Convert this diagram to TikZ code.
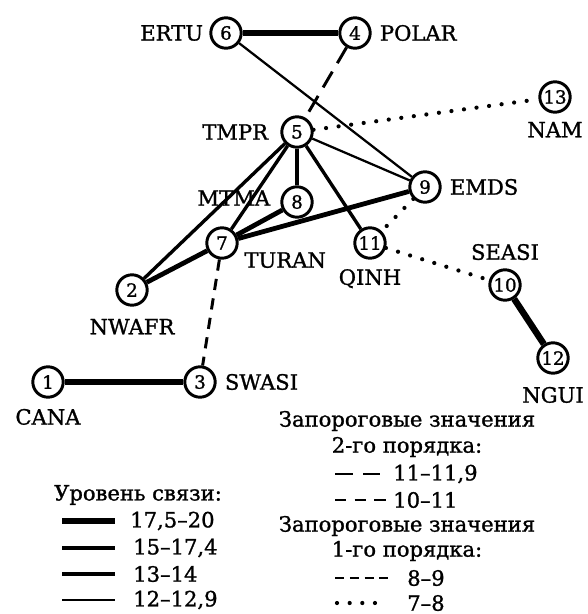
\documentclass[tikz,border=0pt]{standalone}
\usepackage{fontspec}
\setmainfont{DejaVu Serif}
\newfontfamily\semifont{DejaVu Serif}[FakeBold=1.2]
\usetikzlibrary{positioning}

\tikzset{
  reg/.style={circle, draw, fill=white, line width=2.1pt, minimum size=7.6mm, inner sep=0pt, font=\fontsize{13}{13}\semifont},
  lbl/.style={inner sep=0pt, font=\fontsize{15}{16}\semifont},
  lvlA/.style={line width=4.6pt},
  lvlB/.style={line width=3.4pt},
  lvlC/.style={line width=2.4pt},
  lvlD/.style={line width=1.6pt},
  subA/.style={line width=2.1pt, dash pattern=on 13pt off 7pt},
  subB/.style={line width=2.1pt, dash pattern=on 8pt off 6pt},
  subC/.style={line width=2.1pt, dash pattern=on 6.5pt off 4pt},
  subD/.style={line width=3pt, line cap=round, dash pattern=on 0pt off 9pt}
}

\begin{document}
\begin{tikzpicture}[x=0.25mm, y=-0.25mm]

        \useasboundingbox (0,0) rectangle (587,614);

        % regions
        \node[reg] (n6) at (226,33) {6};
        \node[reg] (n4) at (355,33) {4};
        \node[reg] (n5) at (297,132) {5};
        \node[reg] (n13) at (555,97) {13};
        \node[reg] (n8) at (297,202) {8};
        \node[reg] (n9) at (425,187) {9};
        \node[reg] (n7) at (222,243) {7};
        \node[reg] (n11) at (370,243) {11};
        \node[reg] (n2) at (132,290) {2};
        \node[reg] (n10) at (505,285) {10};
        \node[reg] (n12) at (553,358) {12};
        \node[reg] (n1) at (48,382) {1};
        \node[reg] (n3) at (200,382) {3};

        \node[lbl, left=1.5mm of n6] (t6) {ERTU};
        \node[lbl, right=2mm of n4] (t4) {POLAR};
        \node[lbl, left=3mm of n5] (t5) {TMPR};
        \node[lbl, below=2mm of n13] (t13) {NAM};
        \node[lbl, left=2.5mm of n8, yshift=1mm] (t8) {MTMA};
        \node[lbl, right=2mm of n9] (t9) {EMDS};
        \node[lbl, below right=-0.7mm and 2.6mm of n7] (t7) {TURAN};
        \node[lbl, below=2.3mm of n11] (t11) {QINH};
        \node[lbl, below=3mm of n2] (t2) {NWAFR};
        \node[lbl, above=2mm of n10] (t10) {SEASI};
        \node[lbl, below=3mm of n12] (t12) {NGUI};
        \node[lbl, below=2.5mm of n1] (t1) {CANA};
        \node[lbl, right=2mm of n3] (t3) {SWASI};

        % links
        \draw[lvlA] (n6) -- (n4);
        \draw[lvlD] (n6) -- (n9);
        \draw[subA] (n4) -- (n5);
        \draw[subD] (n5) -- (n13);
        \draw[lvlD] (n5) -- (n9);
        \draw[lvlB] (n5) -- (n8);
        \draw[lvlC] (n5) -- (n11);
        \draw[lvlC] (n5) -- (n7);
        \draw[lvlC] (n5) -- (n2);
        \draw[lvlB] (n7) -- (n8);
        \draw[lvlB] (n7) -- (n9);
        \draw[lvlB] (n7) -- (n2);
        \draw[subB] (n7) -- (n3);
        \draw[subD] (n9) -- (n11);
        \draw[subD] (n11) -- (n10);
        \draw[lvlA] (n10) -- (n12);
        \draw[lvlA] (n1) -- (n3);

        % legend, left
        \node[lbl] (lvl) at (138,495) {Уровень связи:};
        \node[lbl, anchor=west] (k1) at (130,521) {17,5–20};
        \node[lbl, anchor=west] (k2) at (133,548) {15–17,4};
        \node[lbl, anchor=west] (k3) at (133,574) {13–14};
        \node[lbl, anchor=west] (k4) at (133,600) {12–12,9};
        \coordinate (k1a) at (62,521);
        \coordinate (k2a) at (62,548);
        \coordinate (k3a) at (62,574);
        \coordinate (k4a) at (62,600);
        \draw[lvlA] (k1a) -- ++(53,0);
        \draw[lvlB] (k2a) -- ++(53,0);
        \draw[lvlC] (k3a) -- ++(53,0);
        \draw[lvlD] (k4a) -- ++(53,0);

        % legend, right
        \node[lbl] (sub2) at (407,421) {Запороговые значения};
        \node[lbl] (ord2) at (407,447) {2-го порядка:};
        \node[lbl, anchor=west] (m1) at (393,474) {11–11,9};
        \node[lbl, anchor=west] (m2) at (393,500) {10–11};
        \node[lbl] (sub1) at (407,526) {Запороговые значения};
        \node[lbl] (ord1) at (407,551) {1-го порядка:};
        \node[lbl, anchor=west] (m3) at (407,578) {8–9};
        \node[lbl, anchor=west] (m4) at (407,603) {7–8};
        \coordinate (m1a) at (335,474);
        \coordinate (m2a) at (335,500);
        \coordinate (m3a) at (335,578);
        \coordinate (m4a) at (337,603);
        \draw[subA] (m1a) -- ++(45,0);
        \draw[subB] (m2a) -- ++(52,0);
        \draw[subC] (m3a) -- ++(54,0);
        \draw[subD] (m4a) -- ++(48,0);

\end{tikzpicture}
\end{document}
